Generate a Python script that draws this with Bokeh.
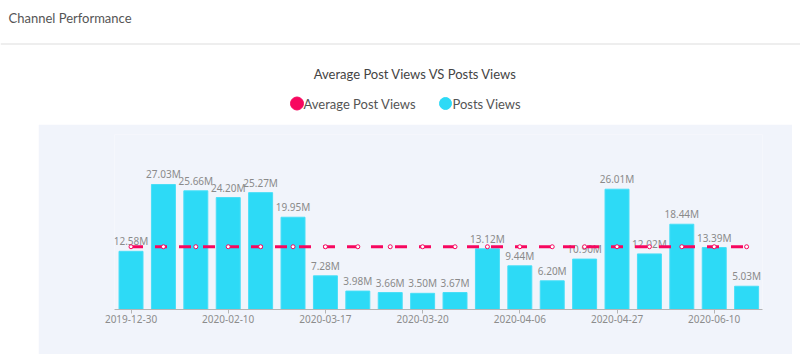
from bokeh.plotting import figure
from bokeh.models import ColumnDataSource, Range1d, FixedTicker, Spacer
from bokeh.layouts import column, row
from bokeh.core.properties import value
from bokeh.embed import file_html
from bokeh.resources import INLINE

# ---- data ----
posts_views = [12.58, 27.03, 25.66, 24.20, 25.27, 19.95, 7.28, 3.98, 3.66, 3.50,
               3.67, 13.12, 9.44, 6.20, 10.90, 26.01, 12.02, 18.44, 13.39, 5.03]
avg_value = 13.57
avg_post_views = [avg_value] * len(posts_views)
tick_positions = [0, 3, 6, 9, 12, 15, 18]
tick_labels = ["2019-12-30", "2020-02-10", "2020-03-17", "2020-03-20",
               "2020-04-06", "2020-04-27", "2020-06-10"]
header_text = "Channel Performance"
chart_title = "Average Post Views VS Posts Views"
series_names = ["Average Post Views", "Posts Views"]

PINK = "#f7075f"
CYAN = "#2ddaf6"
PANEL = "#f1f4fb"
FONT = "Lato"

# ---- top header figure (screen-like coordinates) ----
W, HT = 800, 124
top = figure(width=W, height=HT, x_range=Range1d(0, W), y_range=Range1d(HT, 0),
             output_backend="svg", toolbar_location=None,
             min_border=0, outline_line_color=None)
top.axis.visible = False
top.grid.visible = False
top.background_fill_color = "white"
top.border_fill_color = "white"

top.text(x=[8], y=[17], text=[header_text], text_font=value(FONT),
         text_font_size="13px", text_color="#555555", text_baseline="middle",
         text_align="left")
top.segment(x0=[0], y0=[43.5], x1=[W], y1=[43.5], line_color="#dddddd", line_width=1)
top.text(x=[415], y=[73], text=[chart_title], text_font=value(FONT),
         text_font_size="13px", text_color="#444444", text_baseline="middle",
         text_align="center")
# legend
top.scatter(x=[296.5], y=[103], size=13, fill_color=PINK, line_color=PINK, marker="circle")
top.text(x=[303], y=[103], text=[series_names[0]], text_font=value(FONT),
         text_font_size="13px", text_color="#555555", text_baseline="middle",
         text_align="left")
top.scatter(x=[445], y=[103], size=12, fill_color=CYAN, line_color=CYAN, marker="circle")
top.text(x=[452], y=[103], text=[series_names[1]], text_font=value(FONT),
         text_font_size="13px", text_color="#555555", text_baseline="middle",
         text_align="left")

# ---- chart panel ----
n = len(posts_views)
xs = list(range(n))
src = ColumnDataSource(dict(
    x=xs, v=posts_views, avg=avg_post_views,
    lab=["%.2fM" % v for v in posts_views],
))

p = figure(width=754, height=230, x_range=Range1d(-0.51, n - 0.51),
           y_range=Range1d(0, 37.84), output_backend="svg", toolbar_location=None,
           y_axis_location=None, min_border_left=76, min_border_right=30,
           min_border_top=10, min_border_bottom=45, outline_line_color=None)
p.background_fill_color = PANEL
p.border_fill_color = PANEL
p.grid.visible = False

p.vbar(x="x", top="v", bottom=0, width=0.74, source=src,
       fill_color=CYAN, line_color="#48def7", line_width=1)
p.text(x="x", y="v", text="lab", source=src, text_align="center",
       text_baseline="bottom", y_offset=-3, text_font=value("Noto Sans"),
       text_font_size="10px", text_color="#8a8a8a")
p.line(x="x", y="avg", source=src, line_color=PINK, line_width=3, line_dash="12 12")
p.scatter(x="x", y="avg", source=src, size=4, marker="circle",
          fill_color="white", line_color=PINK, line_width=1)

ax = p.xaxis[0]
ax.ticker = FixedTicker(ticks=tick_positions)
ax.major_label_overrides = {t: l for t, l in zip(tick_positions, tick_labels)}
ax.axis_line_color = "#b4b4b4"
ax.major_tick_line_color = "#b4b4b4"
ax.major_tick_out = 4
ax.major_tick_in = 0
ax.minor_tick_line_color = None
ax.major_label_standoff = 1
ax.major_label_text_font = "Noto Sans"
ax.major_label_text_font_size = "10px"
ax.major_label_text_color = "#8c8c8c"

layout = column(top, row(Spacer(width=38, height=230), p))

open("out.html", "w").write(file_html(layout, INLINE))
